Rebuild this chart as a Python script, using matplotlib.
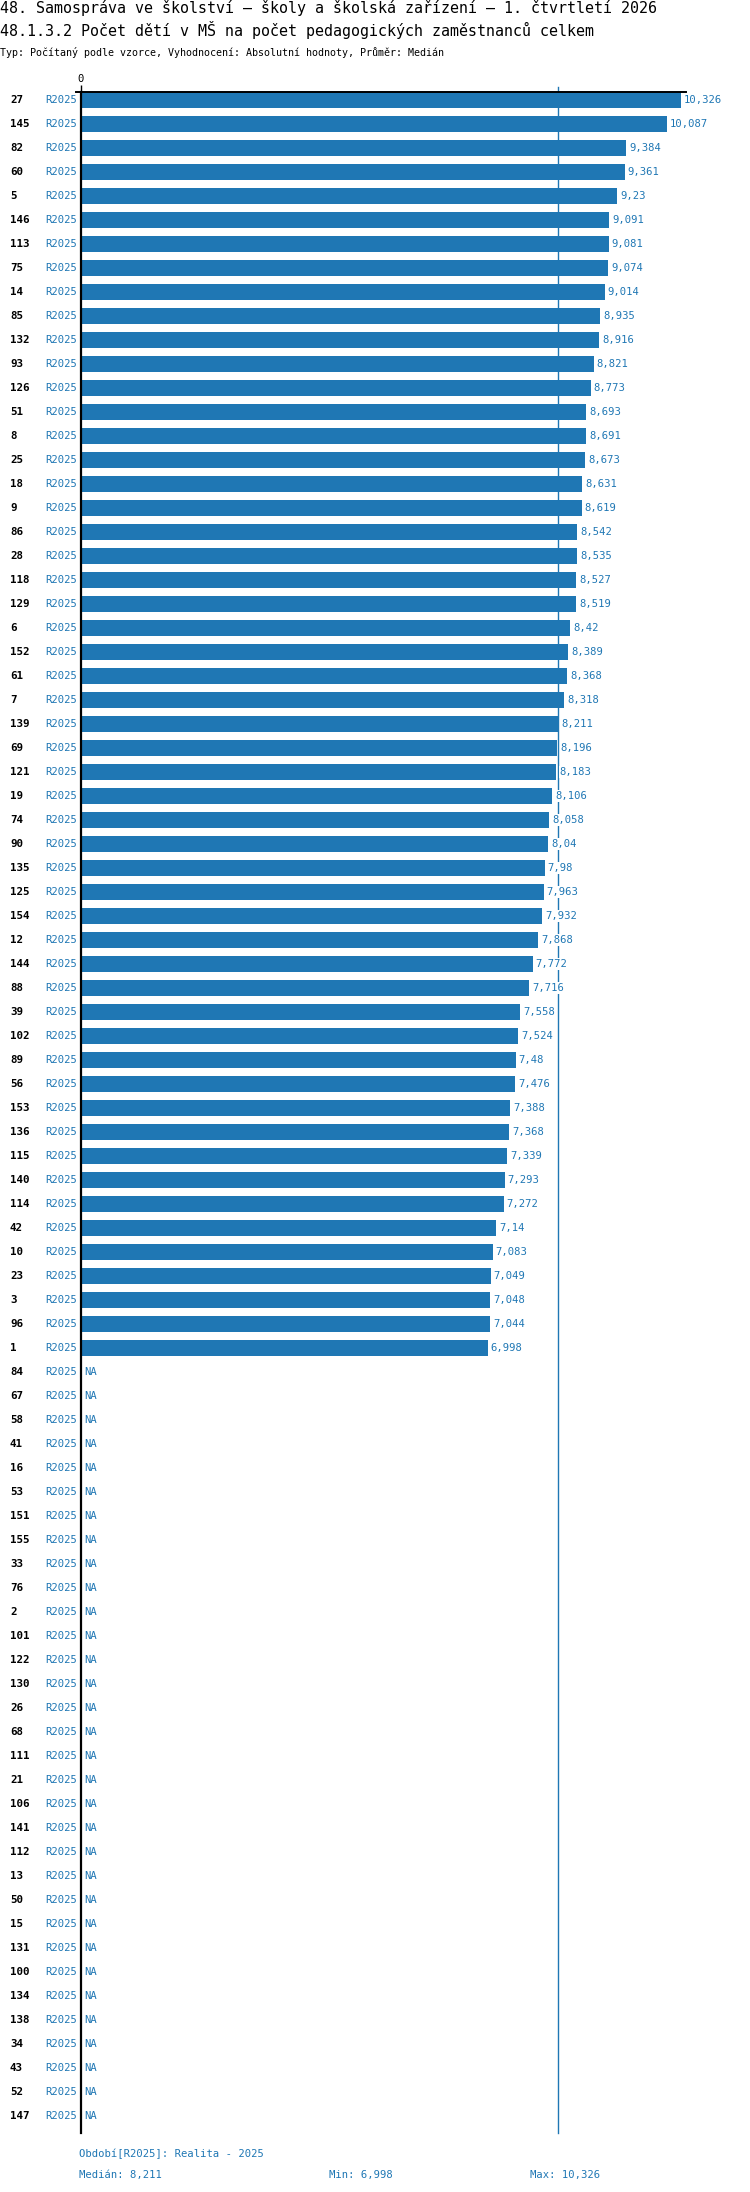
import matplotlib
matplotlib.use("Agg")
import matplotlib.pyplot as plt
import matplotlib.transforms as mtransforms
import numpy as np

plt.rcParams['font.family'] = ['DejaVu Sans Mono', 'DejaVu Sans']

# data (NaN = NA)
ids = [27, 145, 82, 60, 5, 146, 113, 75, 14, 85, 132, 93, 126, 51, 8, 25, 18, 9,
       86, 28, 118, 129, 6, 152, 61, 7, 139, 69, 121, 19, 74, 90, 135, 125, 154,
       12, 144, 88, 39, 102, 89, 56, 153, 136, 115, 140, 114, 42, 10, 23, 3, 96, 1,
       84, 67, 58, 41, 16, 53, 151, 155, 33, 76, 2, 101, 122, 130, 26, 68, 111,
       21, 106, 141, 112, 13, 50, 15, 131, 100, 134, 138, 34, 43, 52, 147]
values = [10.326, 10.087, 9.384, 9.361, 9.23, 9.091, 9.081, 9.074, 9.014, 8.935,
          8.916, 8.821, 8.773, 8.693, 8.691, 8.673, 8.631, 8.619, 8.542, 8.535,
          8.527, 8.519, 8.42, 8.389, 8.368, 8.318, 8.211, 8.196, 8.183, 8.106,
          8.058, 8.04, 7.98, 7.963, 7.932, 7.868, 7.772, 7.716, 7.558, 7.524,
          7.48, 7.476, 7.388, 7.368, 7.339, 7.293, 7.272, 7.14, 7.083, 7.049,
          7.048, 7.044, 6.998] + [np.nan] * 32
period = "R2025"

title1 = "48. Samospráva ve školství – školy a školská zařízení – 1. čtvrtletí 2026"
title2 = "48.1.3.2 Počet dětí v MŠ na počet pedagogických zaměstnanců celkem"
subtitle = "Typ: Počítaný podle vzorce, Vyhodnocení: Absolutní hodnoty, Průměr: Medián"
footer = "Období[R2025]: Realita - 2025"

BLUE = '#1f77b4'
W, H = 750, 2192


def fmt(v):
    s = f"{v:.3f}".rstrip('0').rstrip('.')
    return s.replace('.', ',')


vals = np.array(values, dtype=float)
med = np.nanmedian(vals)
vmin = np.nanmin(vals)
vmax = np.nanmax(vals)

fig = plt.figure(figsize=(W / 100, H / 100), dpi=100)
ax_left, ax_right, ax_top, ax_bot = 76, 686, 92, 2133
ax = fig.add_axes([ax_left / W, 1 - ax_bot / H,
                   (ax_right - ax_left) / W, (ax_bot - ax_top) / H])

px_per_unit = 58.1
ax.set_xlim(-5 / px_per_unit, (ax_right - 81) / px_per_unit)
n = len(ids)
ax.set_ylim(n - 1 + 0.71, -1 / 3)

y = np.arange(n)
bar_vals = np.nan_to_num(vals, nan=0.0)
ax.barh(y, bar_vals, height=2 / 3, color=BLUE, zorder=2)

ax.axvline(med, ymin=0, ymax=1 + 5 / (ax_bot - ax_top), color=BLUE,
           lw=1, zorder=1, clip_on=False)

for i, v in enumerate(vals):
    if np.isnan(v):
        ax.annotate("NA", (0, i), xytext=(3, 0), textcoords='offset pixels',
                    va='center', ha='left', fontsize=7.6, color=BLUE, zorder=3)
    else:
        ax.annotate(fmt(v), (v, i), xytext=(3, 0), textcoords='offset pixels',
                    va='center', ha='left', fontsize=7.6, color=BLUE, zorder=3,
                    bbox=dict(boxstyle='square,pad=0.05', fc='white', ec='none'))

trans = mtransforms.blended_transform_factory(fig.transFigure, ax.transData)
for i, rid in enumerate(ids):
    ax.text(10 / W, i, str(rid), transform=trans, ha='left', va='center',
            fontsize=7.8, fontweight='bold', color='black')
    ax.text(77 / W, i, period, transform=trans, ha='right', va='center',
            fontsize=7.6, color=BLUE)

# axes styling
for s in ['right', 'bottom']:
    ax.spines[s].set_visible(False)
ax.spines['left'].set_position(('data', 0))
ax.spines['left'].set_linewidth(1.6)
ax.spines['top'].set_linewidth(1.4)
ax.xaxis.tick_top()
ax.set_xticks([0])
ax.set_xticklabels(['0'])
ax.tick_params(axis='x', length=5, width=1, pad=1, labelsize=7.6)
ax.set_yticks([])

# titles
fig.text(0, 1 - 8 / H, title1, ha='left', va='center', fontsize=10.8)
fig.text(0, 1 - 30 / H, title2, ha='left', va='center', fontsize=10.8)
fig.text(0, 1 - 52 / H, subtitle, ha='left', va='center', fontsize=7.2)

# footer
fig.text(79 / W, 1 - 2154 / H, footer, ha='left', va='center', fontsize=7.6, color=BLUE)
fig.text(79 / W, 1 - 2175 / H, "Medián: " + fmt(med), ha='left', va='center',
         fontsize=7.6, color=BLUE)
fig.text(329 / W, 1 - 2175 / H, "Min: " + fmt(vmin), ha='left', va='center',
         fontsize=7.6, color=BLUE)
fig.text(530 / W, 1 - 2175 / H, "Max: " + fmt(vmax), ha='left', va='center',
         fontsize=7.6, color=BLUE)

fig.savefig("out.png", dpi=100, facecolor='white')
